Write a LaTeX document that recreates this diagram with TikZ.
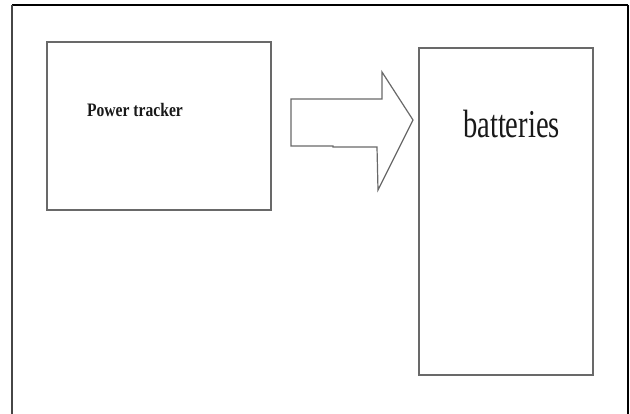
\documentclass[tikz,border=0pt]{standalone}
\usepackage{fontspec}
\setmainfont{Liberation Serif}
\definecolor{boxgray}{RGB}{105,105,105}
\definecolor{framegray}{RGB}{70,70,70}
\tikzset{
  blockbox/.style={draw=boxgray, line width=1.4pt, fill=white, inner sep=0pt, rectangle},
  framebar/.style={line width=2pt},
  bigarrow/.style={draw=boxgray, line width=1.2pt, line join=miter},
  lbl/.style={inner sep=0pt, text=black!90}
}
\begin{document}
\begin{tikzpicture}[x=1pt,y=-1pt]
\useasboundingbox (0,0) rectangle (630,414);
\fill[white] (0,0) rectangle (630,414);
% outer frame (top, left, right)
\coordinate (ftl) at (12,5);
\coordinate (ftr) at (628,5);
\coordinate (fbl) at (12,414);
\coordinate (fbr) at (628,414);
\draw[framebar, black] (ftl) -- (ftr);
\draw[line width=1.6pt, framegray] (ftl) -- (fbl);
\draw[line width=1.6pt, black] (ftr) -- (fbr);
% blocks
\node[blockbox, minimum width=224pt, minimum height=168pt] (pt) at (159,126) {};
\node[lbl, font=\fontsize{15.6}{17}\selectfont\bfseries] (ptlabel) at (135,110) {\scalebox{1}[1.22]{Power tracker}};
\node[blockbox, minimum width=174pt, minimum height=327pt] (bat) at (506,211.5) {};
\node[lbl, font=\fontsize{28.6}{30}\selectfont] (batlabel) at (511.5,124) {\scalebox{1}[1.38]{batteries}};
% block arrow
\coordinate (a1) at (291,99);
\coordinate (a2) at (382,99);
\coordinate (a3) at (382,72);
\coordinate (tip) at (413,120);
\coordinate (a5) at (378,190);
\coordinate (a6) at (377,147);
\coordinate (a7) at (333,147);
\coordinate (a8) at (333,146);
\coordinate (a9) at (291,146);
\draw[bigarrow] (a1) -- (a2) -- (a3) -- (tip) -- (a5) -- (a6) -- (a7) -- (a8) -- (a9) -- cycle;
\end{tikzpicture}
\end{document}
